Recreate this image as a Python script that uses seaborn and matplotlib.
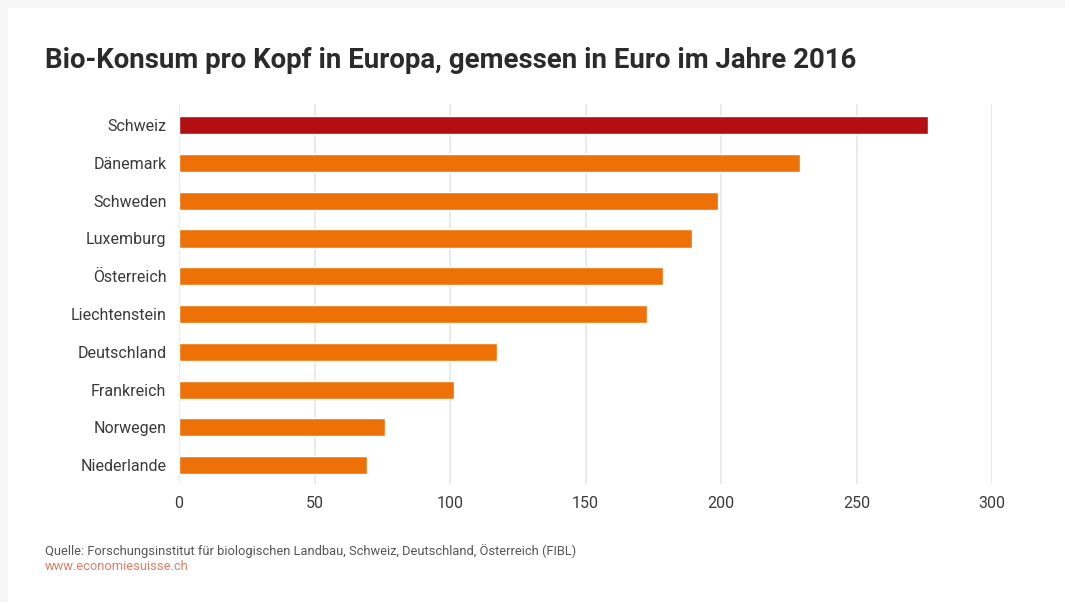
import matplotlib
matplotlib.use("Agg")
import matplotlib.pyplot as plt
import seaborn as sns
import pandas as pd
from matplotlib.patches import Rectangle

countries = ["Schweiz", "Dänemark", "Schweden", "Luxemburg", "Österreich",
             "Liechtenstein", "Deutschland", "Frankreich", "Norwegen", "Niederlande"]
values = [276.5, 229.2, 198.9, 189.3, 178.6, 172.7, 117.3, 101.5, 76.0, 69.4]
xticks = [0, 50, 100, 150, 200, 250, 300]
highlight = "Schweiz"
title = "Bio-Konsum pro Kopf in Europa, gemessen in Euro im Jahre 2016"
source = "Quelle: Forschungsinstitut für biologischen Landbau, Schweiz, Deutschland, Österreich (FIBL)"
url = "www.economiesuisse.ch"

sns.set_theme(style="white")
plt.rcParams['font.family'] = ['Roboto', 'DejaVu Sans']

W, H = 1065, 602
fig = plt.figure(figsize=(W / 100, H / 100), dpi=100)
fig.patch.set_facecolor("#f6f6f6")
bg = Rectangle((8 / W, 0), 1 - 8 / W, 1 - 8 / H, transform=fig.transFigure,
               facecolor="white", edgecolor="none", zorder=-10)
fig.patches.append(bg)

ax = fig.add_axes([179 / W, 1 - 484 / H, (992 - 179) / W, (484 - 104) / H])
ax.set_facecolor("none")
ax.set_zorder(5)

df = pd.DataFrame({"country": countries, "value": values})
palette = {c: ("#b30f12" if c == highlight else "#ee7108") for c in countries}
sns.barplot(data=df, x="value", y="country", hue="country", palette=palette,
            order=countries, width=0.48, legend=False, ax=ax, saturation=1, zorder=3)

ax.set_xlim(0, 300)
ax.set_ylim(9.5, -0.56)
ax.set_xticks(xticks)
ax.set_xticklabels([str(t) for t in xticks])
ax.grid(axis="x", color="#e6e6e6", linewidth=1.2, zorder=0)
ax.set_axisbelow(True)
for s in ax.spines.values():
    s.set_visible(False)
ax.set_xlabel("")
ax.set_ylabel("")
ax.tick_params(axis="both", length=0, labelsize=11.5, colors="#3a3a3a")
ax.tick_params(axis="y", pad=9)
ax.tick_params(axis="x", pad=9)

fig.text(45 / W, 1 - 60 / H, title, fontsize=19.9, fontweight="bold", color="#2b2b2b",
         va="center", ha="left", zorder=6)
fig.text(45 / W, 1 - 551 / H, source, fontsize=9.25, color="#555555", va="center", ha="left", zorder=6)
fig.text(45 / W, 1 - 567 / H, url, fontsize=9.25, color="#e07b62", va="center", ha="left", zorder=6)

fig.savefig("out.png", dpi=100)
